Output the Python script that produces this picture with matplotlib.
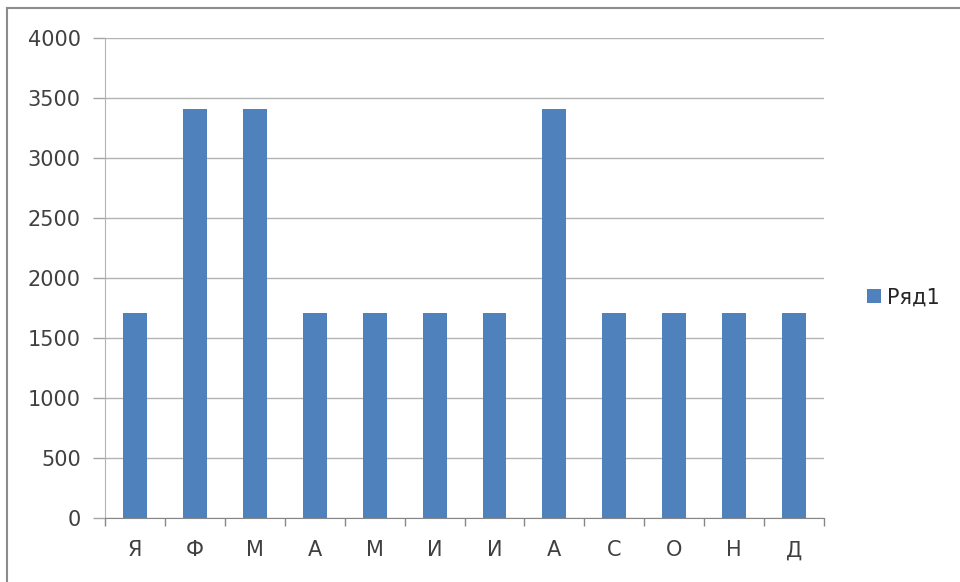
import numpy as np
import matplotlib.pyplot as plt

months = ["Я", "Ф", "М", "А", "М", "И", "И", "А", "С", "О", "Н", "Д"]
values = [1705, 3410, 3410, 1705, 1705, 1705, 1705, 3410, 1705, 1705, 1705, 1705]
series_name = "Ряд1"
y_ticks = [0, 500, 1000, 1500, 2000, 2500, 3000, 3500, 4000]

plt.rcParams['font.family'] = ['DejaVu Sans']

fig = plt.figure(figsize=(9.6, 5.82), dpi=100)
ax = fig.add_axes([0.1094, 0.110, 0.749, 0.8247])

x = np.arange(len(months))
ax.bar(x, values, width=0.4, color="#4F81BD", label=series_name, zorder=3)

ax.set_xlim(-0.5, len(months) - 0.5)
ax.set_ylim(0, 4000)
ax.set_yticks(y_ticks)
ax.set_yticklabels([str(v) for v in y_ticks], fontsize=15, color="#404040")
ax.set_xticks(x)
ax.set_xticklabels(months, fontsize=15, color="#404040")

# category boundary ticks like excel
ax.set_xticks(np.arange(-0.5, len(months)), minor=True)
ax.tick_params(axis="x", which="major", length=0, pad=16)
ax.tick_params(axis="x", which="minor", length=6, color="#868686", width=1)
ax.tick_params(axis="y", length=9, color="#A6A6A6", width=1, pad=8.5)

ax.grid(axis="y", color="#B3B3B3", linewidth=1, zorder=0)
for side in ["top", "right"]:
    ax.spines[side].set_visible(False)
ax.spines["left"].set_color("#B3B3B3")
ax.spines["bottom"].set_color("#868686")

leg = ax.legend(loc="center left", bbox_to_anchor=(1.06, 0.46), frameon=False,
                fontsize=15, handlelength=0.65, handleheight=0.65, handletextpad=0.3,
                borderpad=0, borderaxespad=0)
for t in leg.get_texts():
    t.set_color("#262626")

# outer chart border (only top/left visible in the crop)
fig.add_artist(plt.Line2D([0.0075, 1.0], [0.986, 0.986], color="#8C8C8C", lw=1.5))
fig.add_artist(plt.Line2D([0.0075, 0.0075], [0.0, 0.986], color="#8C8C8C", lw=1.5))

fig.savefig("out.png", dpi=100)
